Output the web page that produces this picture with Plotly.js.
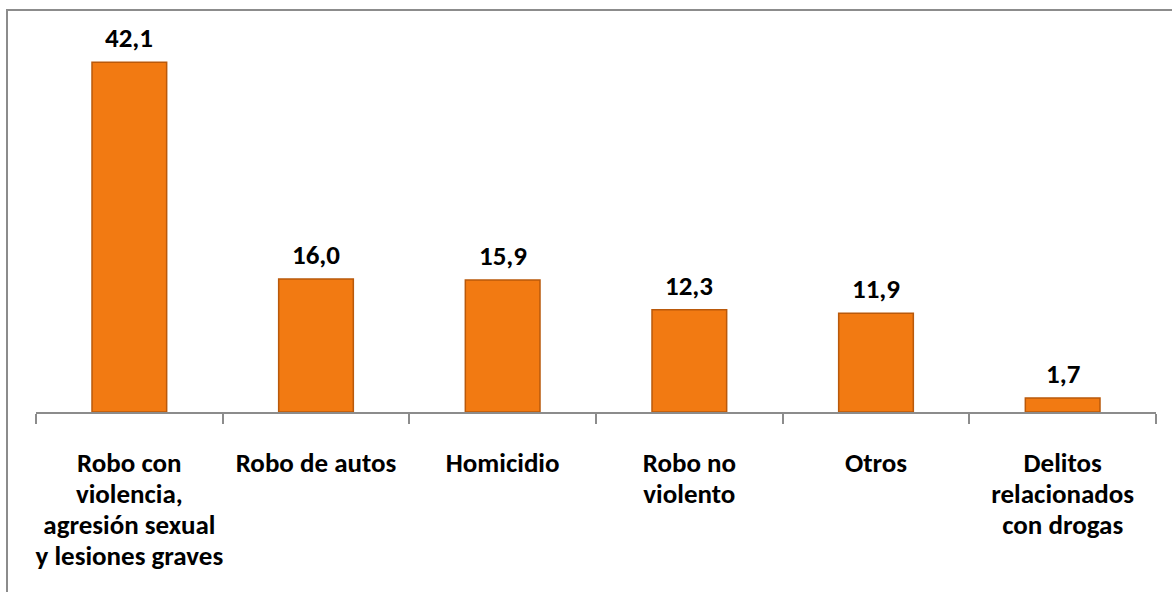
<!DOCTYPE html>
<html>
<head>
<meta charset="utf-8">
<script src="https://cdn.plot.ly/plotly-3.0.1.min.js"></script>
<style>
  html, body { margin: 0; padding: 0; background: #ffffff; }
  #wrap { position: relative; width: 1172px; height: 592px; overflow: hidden; }
  #chart { position: absolute; left: 0; top: 0; width: 1172px; height: 592px; }
  #frame { position: absolute; left: 6px; top: 9px; width: 1200px; height: 700px;
           border-left: 2px solid #8c8c8c; border-top: 2px solid #8c8c8c; pointer-events: none; }
</style>
</head>
<body>
<div id="wrap">
  <div id="chart"></div>
  <div id="frame"></div>
</div>
<script>
const categories = [
  "Robo con<br>violencia,<br>agresión sexual<br>y lesiones graves",
  "Robo de autos",
  "Homicidio",
  "Robo no<br>violento",
  "Otros",
  "Delitos<br>relacionados<br>con drogas"
];
const values = [42.1, 16.0, 15.9, 12.3, 11.9, 1.7];
const valueLabels = ["42,1", "16,0", "15,9", "12,3", "11,9", "1,7"];

const FONT = "Carlito, Calibri, Lato, 'Open Sans', sans-serif";

const trace = {
  type: "bar",
  x: categories,
  y: values,
  width: 0.4,
  marker: { color: "#F27A12", line: { color: "#B9590B", width: 1.5 } },
  hoverinfo: "skip"
};

const annotations = categories.map((c, i) => ({
  x: c, y: values[i], xref: "x", yref: "y",
  text: "<b>" + valueLabels[i] + "</b>",
  showarrow: false, yanchor: "bottom", yshift: 6,
  font: { family: FONT, size: 27, color: "#000000" }
}));

const layout = {
  width: 1172, height: 592,
  margin: { l: 36, r: 16, t: 20, b: 180, pad: 0 },
  paper_bgcolor: "rgba(0,0,0,0)",
  plot_bgcolor: "rgba(0,0,0,0)",
  showlegend: false,
  bargap: 0.6,
  xaxis: {
    type: "category",
    showline: true, linecolor: "#8c8c8c", linewidth: 2,
    ticks: "outside", tickson: "boundaries", ticklen: 10, tickwidth: 2, tickcolor: "#8c8c8c",
    tickfont: { family: FONT, size: 24, color: "#000000", weight: "bold" },
    tickvals: categories,
    ticktext: categories.map(c => "<span style='font-size:27px'>" + c + "</span>"),
    tickangle: 0,
    ticklabelstandoff: 29,
    showgrid: false, zeroline: false, fixedrange: true
  },
  yaxis: {
    range: [0, 47.2],
    visible: false, showgrid: false, zeroline: false, fixedrange: true
  },
  annotations: annotations
};

Plotly.newPlot("chart", [trace], layout, { displayModeBar: false, staticPlot: true });
</script>
</body>
</html>
